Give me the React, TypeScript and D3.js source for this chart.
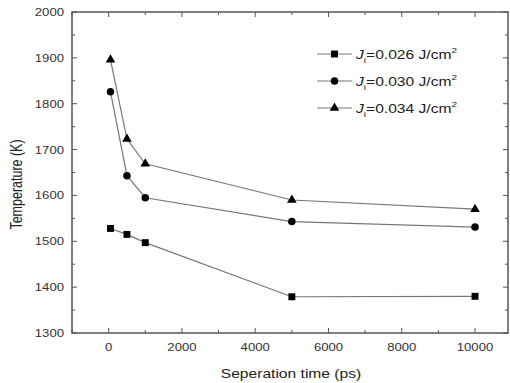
import React from 'react';
import * as d3 from 'd3';

const times = [50, 500, 1000, 5000, 10000];
const temp026 = [1528, 1515, 1497, 1379, 1380];
const temp030 = [1826, 1643, 1595, 1543, 1531];
const temp034 = [1896, 1723, 1669, 1590, 1570];
const seriesLabels = ['0.026', '0.030', '0.034'];
const xTicks = [0, 2000, 4000, 6000, 8000, 10000];
const yTicks = [1300, 1400, 1500, 1600, 1700, 1800, 1900, 2000];

const W = 510, H = 383;
const left = 72, right = 508, top = 12, bottom = 333;
// the source picture is a bit stretched sideways
const sx = 1.25;

export default function App() {
  const x = d3.scaleLinear().domain([-1000, 10900]).range([left, right]);
  const y = d3.scaleLinear().domain([1300, 2000]).range([bottom, top]);

  const series = [
    { values: temp026, shape: d3.symbolSquare, size: 48 },
    { values: temp030, shape: d3.symbolCircle, size: 44 },
    { values: temp034, shape: d3.symbolTriangle, size: 40 },
  ];

  const line = d3.line<number>().x((_, i) => x(times[i])).y(d => y(d));

  const xMinor = d3.range(-1000, 10901, 1000).filter(v => v % 2000 !== 0);
  const yMinor = d3.range(1350, 2000, 100);

  const font = 'Liberation Sans, Arial, sans-serif';
  const frame = '#555';

  return (
    <svg width={W} height={H} style={{ position: 'absolute', left: 0, top: 0, background: '#fff' }}>
      {series.map((s, k) => (
        <g key={k}>
          <path d={line(s.values) || ''} fill="none" stroke="#777" strokeWidth={1.2} />
          {s.values.map((v, i) => (
            <path key={i} d={d3.symbol(s.shape, s.size)() || ''}
              transform={`translate(${x(times[i])},${y(v)})`} fill="#000" />
          ))}
        </g>
      ))}

      {/* frame */}
      <rect x={left} y={top} width={right - left} height={bottom - top} fill="none" stroke={frame} strokeWidth={1.5} />

      {/* x ticks bottom & top */}
      {xTicks.map(v => (
        <g key={'xm' + v}>
          <line x1={x(v)} x2={x(v)} y1={bottom} y2={bottom - 5} stroke={frame} />
          <line x1={x(v)} x2={x(v)} y1={top} y2={top + 5} stroke={frame} />
          <text transform={`translate(${x(v)},351) scale(${sx},1)`} textAnchor="middle" fontSize={10.5} fontFamily={font} fill="#333">{v}</text>
        </g>
      ))}
      {xMinor.map(v => (
        <g key={'xn' + v}>
          <line x1={x(v)} x2={x(v)} y1={bottom} y2={bottom - 3} stroke={frame} />
          <line x1={x(v)} x2={x(v)} y1={top} y2={top + 3} stroke={frame} />
        </g>
      ))}

      {/* y ticks left & right */}
      {yTicks.map(v => (
        <g key={'ym' + v}>
          <line x1={left} x2={left + 5} y1={y(v)} y2={y(v)} stroke={frame} />
          <line x1={right} x2={right - 5} y1={y(v)} y2={y(v)} stroke={frame} />
          <text transform={`translate(64,${y(v) + 4}) scale(${sx},1)`} textAnchor="end" fontSize={10.5} fontFamily={font} fill="#333">{v}</text>
        </g>
      ))}
      {yMinor.map(v => (
        <g key={'yn' + v}>
          <line x1={left} x2={left + 3} y1={y(v)} y2={y(v)} stroke={frame} />
          <line x1={right} x2={right - 3} y1={y(v)} y2={y(v)} stroke={frame} />
        </g>
      ))}

      {/* axis titles */}
      <text transform={`translate(${(left + right) / 2 + 1},378) scale(${sx},1)`} textAnchor="middle" fontSize={12.5} fontFamily={font} fill="#222">Seperation time (ps)</text>
      <text transform={`translate(22,${(top + bottom) / 2 + 12}) scale(${sx},1) rotate(-90)`} textAnchor="middle" fontSize={12.5} fontFamily={font} fill="#222">Temperature (K)</text>

      {/* legend */}
      {series.map((s, k) => {
        const ly = 54 + k * 27;
        return (
          <g key={'lg' + k}>
            <line x1={317} x2={352} y1={ly} y2={ly} stroke="#777" strokeWidth={1.2} />
            <path d={d3.symbol(s.shape, s.size)() || ''} transform={`translate(334.5,${ly})`} fill="#000" />
            <text transform={`translate(356,${ly + 5}) scale(${sx},1)`} fontSize={12.5} fontFamily={font} fill="#222">
              <tspan fontStyle="italic">J</tspan>
              <tspan fontSize={8} dy={4}>i</tspan>
              <tspan dy={-4}>={seriesLabels[k]} J/cm</tspan>
              <tspan fontSize={8} dy={-6}>2</tspan>
            </text>
          </g>
        );
      })}
    </svg>
  );
}
